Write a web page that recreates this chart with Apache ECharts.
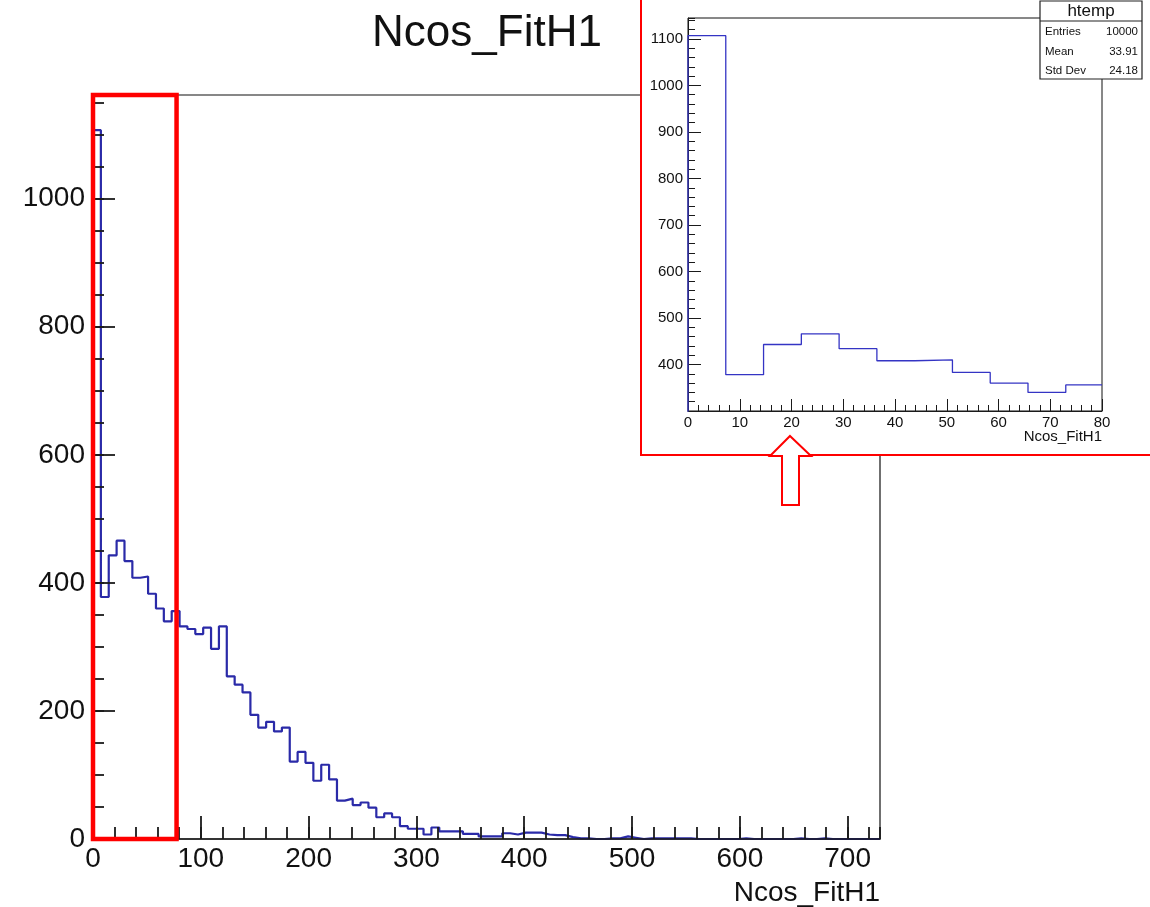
<!DOCTYPE html>
<html><head><meta charset="utf-8">
<script src="https://cdn.jsdelivr.net/npm/echarts@6/dist/echarts.min.js"></script>
<style>html,body{margin:0;padding:0;background:#fff}#c{width:1150px;height:907px}</style>
</head><body><div id="c"></div>
<script>
// ---- data ----
const binWidth = 7.3;
const counts = [
  1107,378,443,466,434,408,410,383,360,340,
  356,332,328,320,330,297,332,254,241,229,
  194,174,183,168,174,121,136,119,91,116,
  93,60,63,53,57,49,34,40,34,20,
  16,16,7,18,12,12,12,8,8,4,
  4,4,9,7,10,10,10,7,6,6,
  3,1,1,0,0,1,1,4,2,0,
  1,1,1,1,1,1,0,0,0,0,
  0,0,1,0,0,0,0,0,0,1,
  0,0,1,0,0,0,0,0,0,0
];
const mainXRange = [0, 730];
const mainYRange = [0, 1162];
const insetXRange = [0, 80];
const insetYRange = [300, 1145];
const zoomBox = [0, 77.5];
const titleText = 'Ncos_FitH1';
const axisTitle = 'Ncos_FitH1';
const statsTitle = 'htemp';
const statsLabels = ['Entries', 'Mean', 'Std Dev'];
const statsValues = ['10000', '33.91', '24.18'];

// ---- build histogram outline points ----
const pts = [[0, 0]];
counts.forEach((c, i) => pts.push([i * binWidth, c]));
pts.push([counts.length * binWidth, counts[counts.length - 1]]);
pts.push([counts.length * binWidth, 0]);

// inset: only the part inside the zoomed x range
const insetPts = pts.filter(p => p[0] < insetXRange[1]);
insetPts.push([insetXRange[1], insetPts[insetPts.length - 1][1]]);

const FF = 'Liberation Sans, Arial, Helvetica, sans-serif';
const AX = '#1a1a1a';
const plain = v => String(v);

const chart = echarts.init(document.getElementById('c'), null, {renderer: 'canvas'});

const statsEls = [];
statsEls.push({type: 'rect', shape: {x: 1040, y: 1, width: 102, height: 78}, style: {fill: '#fff', stroke: '#222', lineWidth: 1.2}, z: 30});
statsEls.push({type: 'line', shape: {x1: 1040, y1: 21, x2: 1142, y2: 21}, style: {stroke: '#222', lineWidth: 1.2}, z: 31});
statsEls.push({type: 'text', x: 1091, y: 11, style: {text: statsTitle, font: '17px ' + FF, fill: '#111', textAlign: 'center', textVerticalAlign: 'middle'}, z: 31});
const rowY = [32, 52, 71];
statsLabels.forEach((l, i) => {
  statsEls.push({type: 'text', x: 1045, y: rowY[i], style: {text: l, font: '11.5px ' + FF, fill: '#111', textAlign: 'left', textVerticalAlign: 'middle'}, z: 31});
  statsEls.push({type: 'text', x: 1138, y: rowY[i], style: {text: statsValues[i], font: '11.5px ' + FF, fill: '#111', textAlign: 'right', textVerticalAlign: 'middle'}, z: 31});
});

const option = {
  animation: false,
  backgroundColor: '#fff',
  grid: [
    {left: 93, top: 95, width: 787, height: 744, show: true, borderColor: '#111', borderWidth: 1.2, backgroundColor: 'transparent', containLabel: false, outerBoundsMode: 'none', z: 0},
    {left: 688, top: 18, width: 414, height: 393, show: true, borderColor: '#111', borderWidth: 1, backgroundColor: '#fff', containLabel: false, outerBoundsMode: 'none', z: 11}
  ],
  xAxis: [
    {gridIndex: 0, type: 'value', min: mainXRange[0], max: mainXRange[1], interval: 100, position: 'bottom', z: 3,
     axisLine: {show: true, onZero: false, lineStyle: {color: AX, width: 1.5}},
     axisTick: {show: true, inside: true, length: 23, lineStyle: {color: AX, width: 1.8}},
     axisLabel: {show: true, fontSize: 28, fontFamily: FF, color: '#111', margin: 6, showMaxLabel: false, formatter: plain},
     splitLine: {show: false}},
    {gridIndex: 0, type: 'value', min: mainXRange[0], max: mainXRange[1], interval: 20, position: 'bottom', z: 3,
     axisLine: {show: false}, axisTick: {show: true, inside: true, length: 12, lineStyle: {color: AX, width: 1.8}},
     axisLabel: {show: false}, splitLine: {show: false}},
    {gridIndex: 1, type: 'value', min: insetXRange[0], max: insetXRange[1], interval: 10, position: 'bottom', z: 13,
     axisLine: {show: true, onZero: false, lineStyle: {color: AX, width: 1}},
     axisTick: {show: true, inside: true, length: 12, lineStyle: {color: AX, width: 1}},
     minorTick: {show: true, splitNumber: 5, length: 6, lineStyle: {color: AX, width: 1}},
     axisLabel: {show: true, fontSize: 15, fontFamily: FF, color: '#111', margin: 4, formatter: plain},
     splitLine: {show: false}, minorSplitLine: {show: false}}
  ],
  yAxis: [
    {gridIndex: 0, type: 'value', min: mainYRange[0], max: mainYRange[1], interval: 200, position: 'left', z: 3,
     axisLine: {show: true, onZero: false, lineStyle: {color: AX, width: 1.5}},
     axisTick: {show: true, inside: true, length: 22, lineStyle: {color: AX, width: 1.8}},
     axisLabel: {show: true, fontSize: 28, fontFamily: FF, color: '#111', margin: 8, showMaxLabel: false, formatter: plain},
     splitLine: {show: false}},
    {gridIndex: 0, type: 'value', min: mainYRange[0], max: mainYRange[1], interval: 50, position: 'left', z: 3,
     axisLine: {show: false}, axisTick: {show: true, inside: true, length: 11, lineStyle: {color: AX, width: 1.8}},
     axisLabel: {show: false}, splitLine: {show: false}},
    {gridIndex: 1, type: 'value', min: insetYRange[0], max: insetYRange[1], interval: 100, position: 'left', z: 13,
     axisLine: {show: true, onZero: false, lineStyle: {color: AX, width: 1}},
     axisTick: {show: true, inside: true, length: 13, lineStyle: {color: AX, width: 1}},
     axisLabel: {show: true, fontSize: 15, fontFamily: FF, color: '#111', margin: 5, showMinLabel: false, showMaxLabel: false, formatter: plain},
     splitLine: {show: false}},
    {gridIndex: 1, type: 'value', min: insetYRange[0], max: insetYRange[1], interval: 20, position: 'left', z: 13,
     axisLine: {show: false}, axisTick: {show: true, inside: true, length: 7, lineStyle: {color: AX, width: 1}},
     axisLabel: {show: false}, splitLine: {show: false}}
  ],
  series: [
    {type: 'line', xAxisIndex: 0, yAxisIndex: 0, data: pts, step: 'end', showSymbol: false, symbol: 'none', z: 2,
     lineStyle: {color: '#2a2aa8', width: 2.2}, clip: true,
     markArea: {silent: true, z: 6, itemStyle: {color: 'rgba(0,0,0,0)', borderColor: '#ff0000', borderWidth: 4.5},
       data: [[{coord: [zoomBox[0], mainYRange[0]]}, {coord: [zoomBox[1], mainYRange[1]]}]]}},
    {type: 'line', xAxisIndex: 2, yAxisIndex: 2, data: insetPts, step: 'end', showSymbol: false, symbol: 'none', z: 14,
     lineStyle: {color: '#3434c4', width: 1.3}, clip: true}
  ],
  graphic: {elements: [
    {type: 'text', x: 487, y: 34, style: {text: titleText, font: '44px ' + FF, fill: '#111', textAlign: 'center', textVerticalAlign: 'middle'}, z: 5},
    {type: 'text', x: 880, y: 893, style: {text: axisTitle, font: '28px ' + FF, fill: '#111', textAlign: 'right', textVerticalAlign: 'middle'}, z: 5},
    {type: 'rect', shape: {x: 641, y: -5, width: 520, height: 460}, style: {fill: '#fff', stroke: '#ff0000', lineWidth: 2}, z: 10},
    {type: 'text', x: 1102, y: 437, style: {text: axisTitle, font: '15px ' + FF, fill: '#111', textAlign: 'right', textVerticalAlign: 'middle'}, z: 15},
    {type: 'polygon', shape: {points: [[790, 436], [811, 456], [799, 456], [799, 505], [782, 505], [782, 456], [770, 456]]}, style: {fill: '#fff', stroke: '#ff0000', lineWidth: 2}, z: 20}
  ].concat(statsEls)}
};
chart.setOption(option);
</script>
</body></html>
